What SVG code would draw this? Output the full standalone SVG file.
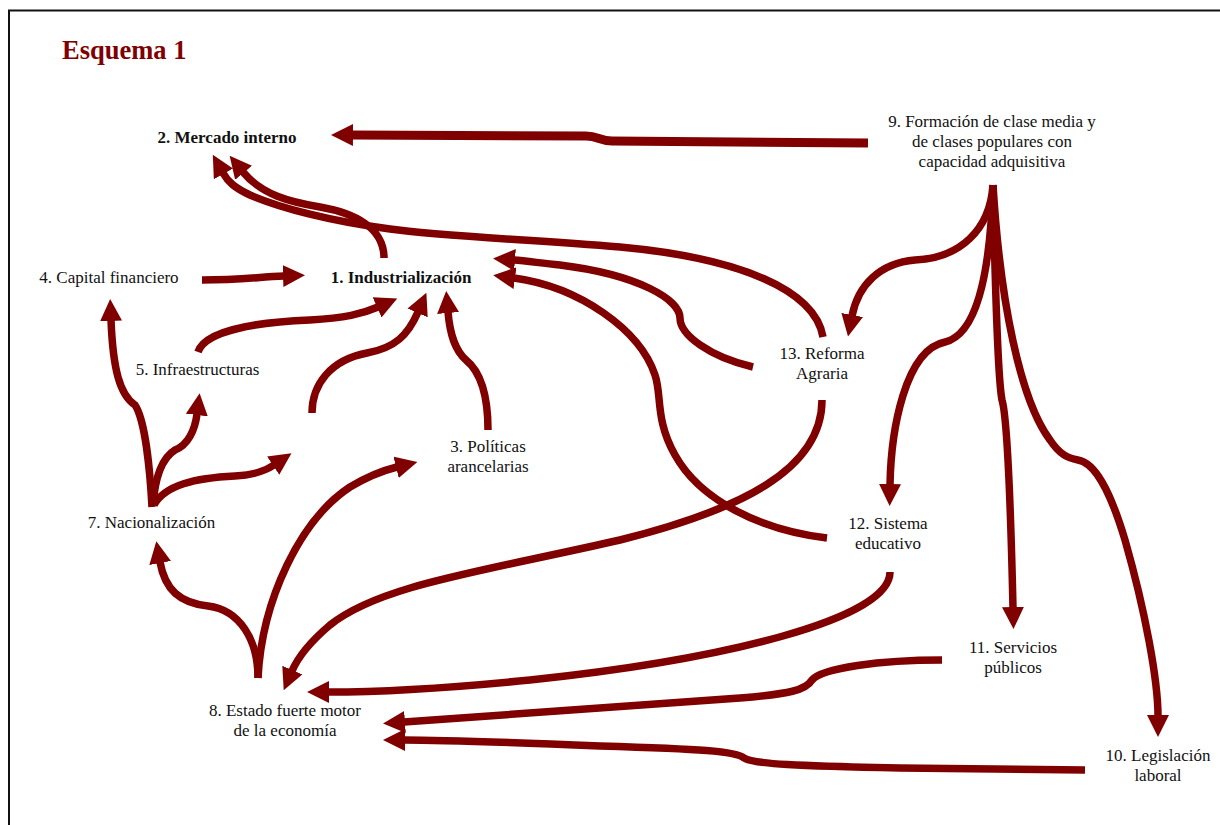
<svg xmlns="http://www.w3.org/2000/svg" width="1220" height="825" viewBox="0 0 1220 825">
<style>
.t{font-family:"Liberation Serif","Times New Roman",serif;font-size:17px;fill:#111;}
.b{font-weight:bold;}
.m{text-anchor:middle;}
.c{fill:none;stroke:#800000;stroke-width:7.5;marker-end:url(#ah);}
</style>
<defs>
<marker id="ah" markerUnits="userSpaceOnUse" markerWidth="22" markerHeight="22" viewBox="0 0 22 22" refX="1" refY="11" orient="auto">
<path d="M0,0 L22,11 L0,22 z" fill="#800000"/>
</marker>
</defs>
<rect width="1220" height="825" fill="#fff"/>
<path d="M9,826 L9,10.5 L1221,10.5" fill="none" stroke="#111" stroke-width="2"/>
<text x="62" y="59" style="font-family:'Liberation Serif','Times New Roman',serif;font-size:26.5px;font-weight:bold;fill:#800000">Esquema 1</text>

<g id="connectors">
<path class="c" style="stroke-width:9" d="M868,143 L612,141 C600,141 598,136 586,136 L352,135"/>
<path class="c" d="M384,258 C384,228 355,213 320,207 C290,202 262,195 243,172"/>
<path class="c" d="M823,337 C815,290 740,258 620,247 C520,239 440,236 390,229 C330,221 280,208 250,195 C235,188 228,182 223,173"/>
<path class="c" d="M202,280 C240,280 258,277 284,276"/>
<path class="c" d="M198,352 C205,330 260,322 310,320 C345,318 362,314 378,307"/>
<path class="c" d="M312,413 C312,385 330,360 367,353 C395,348 408,335 418,312"/>
<path class="c" d="M488,430 C488,400 482,373 466,360 C455,350 450,335 448,312"/>
<path class="c" d="M152,507 C150,470 145,420 135,405 C120,395 113,370 111,320"/>
<path class="c" d="M153,505 C155,478 162,458 175,450 C188,445 195,430 197,414"/>
<path class="c" d="M154,505 C165,485 195,478 235,476 C255,475 265,471 274,465"/>
<path class="c" d="M258,678 C258,640 240,610 208,606 C180,603 165,590 160,562"/>
<path class="c" d="M258,678 C262,600 300,520 350,487 C370,475 385,470 397,467"/>
<path class="c" d="M822,400 C822,470 740,510 620,540 C480,572 380,585 330,625 C310,642 298,657 292,671"/>
<path class="c" d="M890,572 C890,620 720,660 530,680 C430,690 370,692 328,692"/>
<path class="c" d="M942,660 C880,660 822,668 812,680 C806,690 790,694 740,698 C600,708 500,715 404,722"/>
<path class="c" d="M1085,770 L900,768 C800,766 752,764 744,758 C736,751 700,749 600,746 C500,742 450,740 404,740"/>
<path class="c" d="M993,185 C990,230 960,258 915,260 C880,263 858,285 852,316"/>
<path class="c" d="M993,185 C990,280 975,335 945,342 C905,350 891,430 890,485"/>
<path class="c" d="M993,185 C995,280 998,380 1002,400 C1008,420 1011,520 1013,608"/>
<path class="c" d="M993,185 C1000,300 1020,400 1050,440 C1060,455 1068,458 1078,460 C1095,463 1110,490 1125,540 C1145,610 1158,680 1158,716"/>
<path class="c" d="M753,367 C710,357 680,335 680,318 C680,300 640,275 560,265 C540,263 527,261 514,260"/>
<path class="c" d="M827,538 C760,530 700,500 675,455 C655,420 662,395 655,375 C640,330 580,287 514,278"/>
</g>

<g id="n1"><text class="t b m" x="401" y="283">1. Industrialización</text></g>
<g id="n2"><text class="t b m" x="227" y="143">2. Mercado interno</text></g>
<g id="n3"><text class="t m" x="488" y="452">3. Políticas</text><text class="t m" x="488" y="472">arancelarias</text></g>
<g id="n4"><text class="t m" x="109" y="283">4. Capital financiero</text></g>
<g id="n5"><text class="t m" x="197.5" y="375">5. Infraestructuras</text></g>
<g id="n7"><text class="t m" x="151.5" y="528">7. Nacionalización</text></g>
<g id="n8"><text class="t m" x="285" y="716">8. Estado fuerte motor</text><text class="t m" x="285" y="736">de la economía</text></g>
<g id="n9"><text class="t m" x="992" y="127">9. Formación de clase media y</text><text class="t m" x="992" y="147">de clases populares con</text><text class="t m" x="992" y="167">capacidad adquisitiva</text></g>
<g id="n10"><text class="t m" x="1158" y="761">10. Legislación</text><text class="t m" x="1158" y="781">laboral</text></g>
<g id="n11"><text class="t m" x="1013" y="653">11. Servicios</text><text class="t m" x="1013" y="673">públicos</text></g>
<g id="n12"><text class="t m" x="888" y="529">12. Sistema</text><text class="t m" x="888" y="549">educativo</text></g>
<g id="n13"><text class="t m" x="822" y="359">13. Reforma</text><text class="t m" x="822" y="379">Agraria</text></g>
</svg>
